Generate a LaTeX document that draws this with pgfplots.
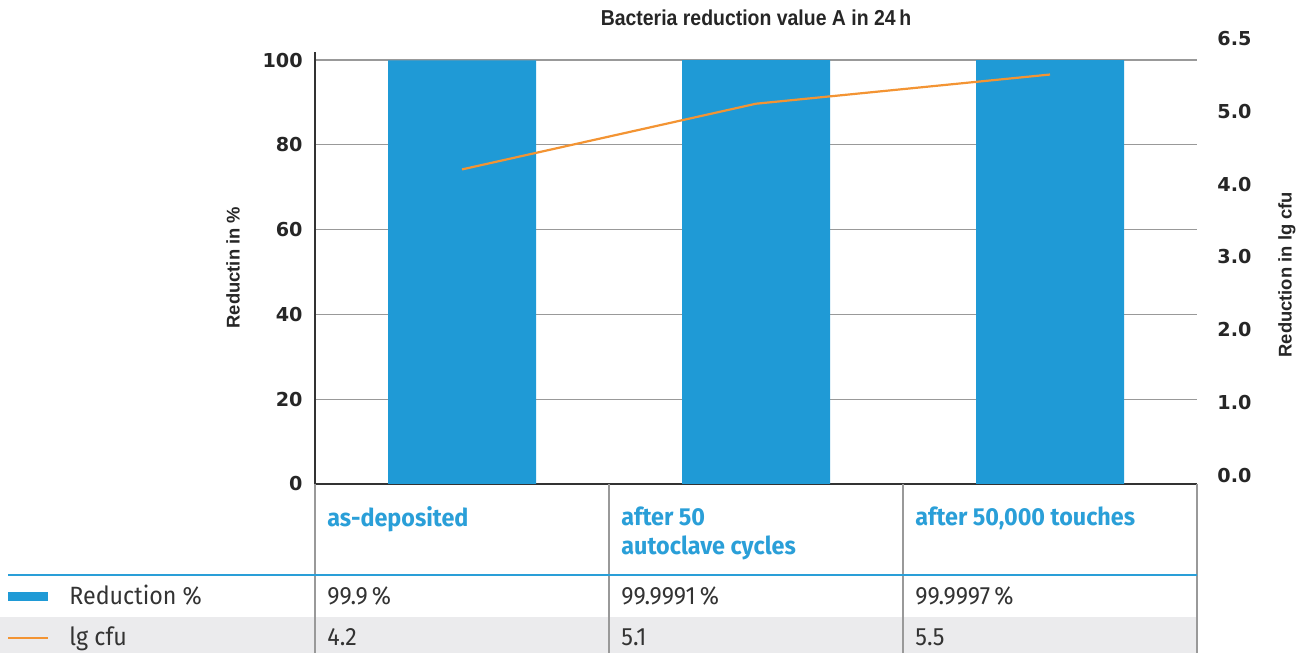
\documentclass[border=0pt]{standalone}
\usepackage{fontspec}
\setmainfont{Liberation Sans}
\newfontfamily\tickfont{DejaVu Sans}
\newfontfamily\condfont[FakeStretch=0.93]{Fira Sans}
\newfontfamily\condboldfont[FakeStretch=0.95]{Fira Sans}
\newfontfamily\titlefont[FakeStretch=0.9]{Liberation Sans}
\usepackage{pgfplots}
\pgfplotsset{compat=1.18}
\definecolor{barblue}{HTML}{1F9AD6}
\definecolor{txtblue}{HTML}{2A9FD8}
\definecolor{lineorange}{HTML}{F39433}
\definecolor{gridgray}{HTML}{999999}
\definecolor{rowgray}{HTML}{EBEBED}
\definecolor{txtdark}{HTML}{333333}
\pgfplotstableread{
x pct lg
0 99.9 4.2
1 99.9991 5.1
2 99.9997 5.5
}\datatable
\begin{document}
\begin{tikzpicture}[x=0.5pt,y=0.5pt]
\useasboundingbox (0,0) rectangle (1307,653);
% table background
\fill[rowgray] (0,0) rectangle (1197,36);
\begin{axis}[
  at={(157.5pt,84.5pt)}, anchor=south west,
  width=441pt, height=216pt, scale only axis,
  xmin=-0.5, xmax=2.5, ymin=0, ymax=101.9,
  axis lines=left, axis line style={-, draw=txtdark, line width=0.7pt},
  xtick={0,1,2},
  xticklabels={as-deposited,{after 50\\autoclave cycles},{after 50{,}000 touches}},
  xticklabel style={anchor=north west, align=left, inner sep=0pt,
    font=\condboldfont\bfseries\fontsize{12.3}{14.5}\selectfont, text=txtblue,
    xshift=-67.5pt, yshift=-11pt},
  ytick={0,20,40,60,80,100},
  major tick length=0pt,
  ymajorgrids, grid style={gridgray, line width=0.6pt},
  /pgf/number format/assume math mode=true,
  yticklabel style={font=\tickfont\bfseries\fontsize{9.6}{10}\selectfont, text=black!85, anchor=east, inner sep=0pt, xshift=-6pt},
  ylabel={Reductin in \%},
  ylabel style={at={(rel axis cs:-0.093,0.501)}, anchor=center, font=\bfseries\fontsize{9.2}{10}\selectfont, text=black!85},
  title={Bacteria reduction value A in 24\,h},
  title style={at={(0.5,1.051)}, anchor=center, font=\titlefont\bfseries\fontsize{10.8}{12}\selectfont, text=black!85},
]
\addplot[ybar, bar width=74pt, fill=barblue, draw=none] table[x=x, y=pct] {\datatable};
\end{axis}
\begin{axis}[
  at={(157.5pt,84.5pt)}, anchor=south west,
  width=441pt, height=227pt, scale only axis,
  xmin=-0.5, xmax=2.5, ymin=-0.1096, ymax=6.110,
  hide x axis,
  axis y line=right, axis line style={draw=none},
  ytick={0,1,2,3,4,5,6},
  yticklabels={0.0,1.0,2.0,3.0,4.0,5.0,6.5},
  major tick length=0pt,
  yticklabel style={font=\tickfont\bfseries\fontsize{9.6}{10}\selectfont, text=black!85, anchor=west, inner sep=0pt, xshift=10pt},
  ylabel={Reduction in lg cfu},
  ylabel style={at={(rel axis cs:1.102,0.461)}, anchor=center, font=\bfseries\fontsize{9.2}{10}\selectfont, text=black!85},
  clip=false,
]
\addplot[lineorange, line width=1.1pt] table[x=x, y=lg] {\datatable};
\end{axis}
% table lines
\foreach \xx in {315,609,903,1197} \draw[gridgray, line width=0.6pt] (\xx,169) -- (\xx,0);
\draw[txtblue, line width=1pt] (8,78) -- (1197,78);
\fill[barblue] (8,52) rectangle (48,61);
\draw[lineorange, line width=1pt] (8,15) -- (48,15);
\begin{scope}[every node/.style={anchor=base west, inner sep=0pt, text=txtdark, font=\condfont\fontsize{12.5}{14}\selectfont}]
\node at (69,48) {Reduction \%};
\node at (69,7) {lg cfu};
\node at (327,48) {99.9\,\%};
\node at (621,48) {99.9991\,\%};
\node at (915,48) {99.9997\,\%};
\node at (327,7) {4.2};
\node at (621,7) {5.1};
\node at (915,7) {5.5};
\end{scope}
\end{tikzpicture}
\end{document}
